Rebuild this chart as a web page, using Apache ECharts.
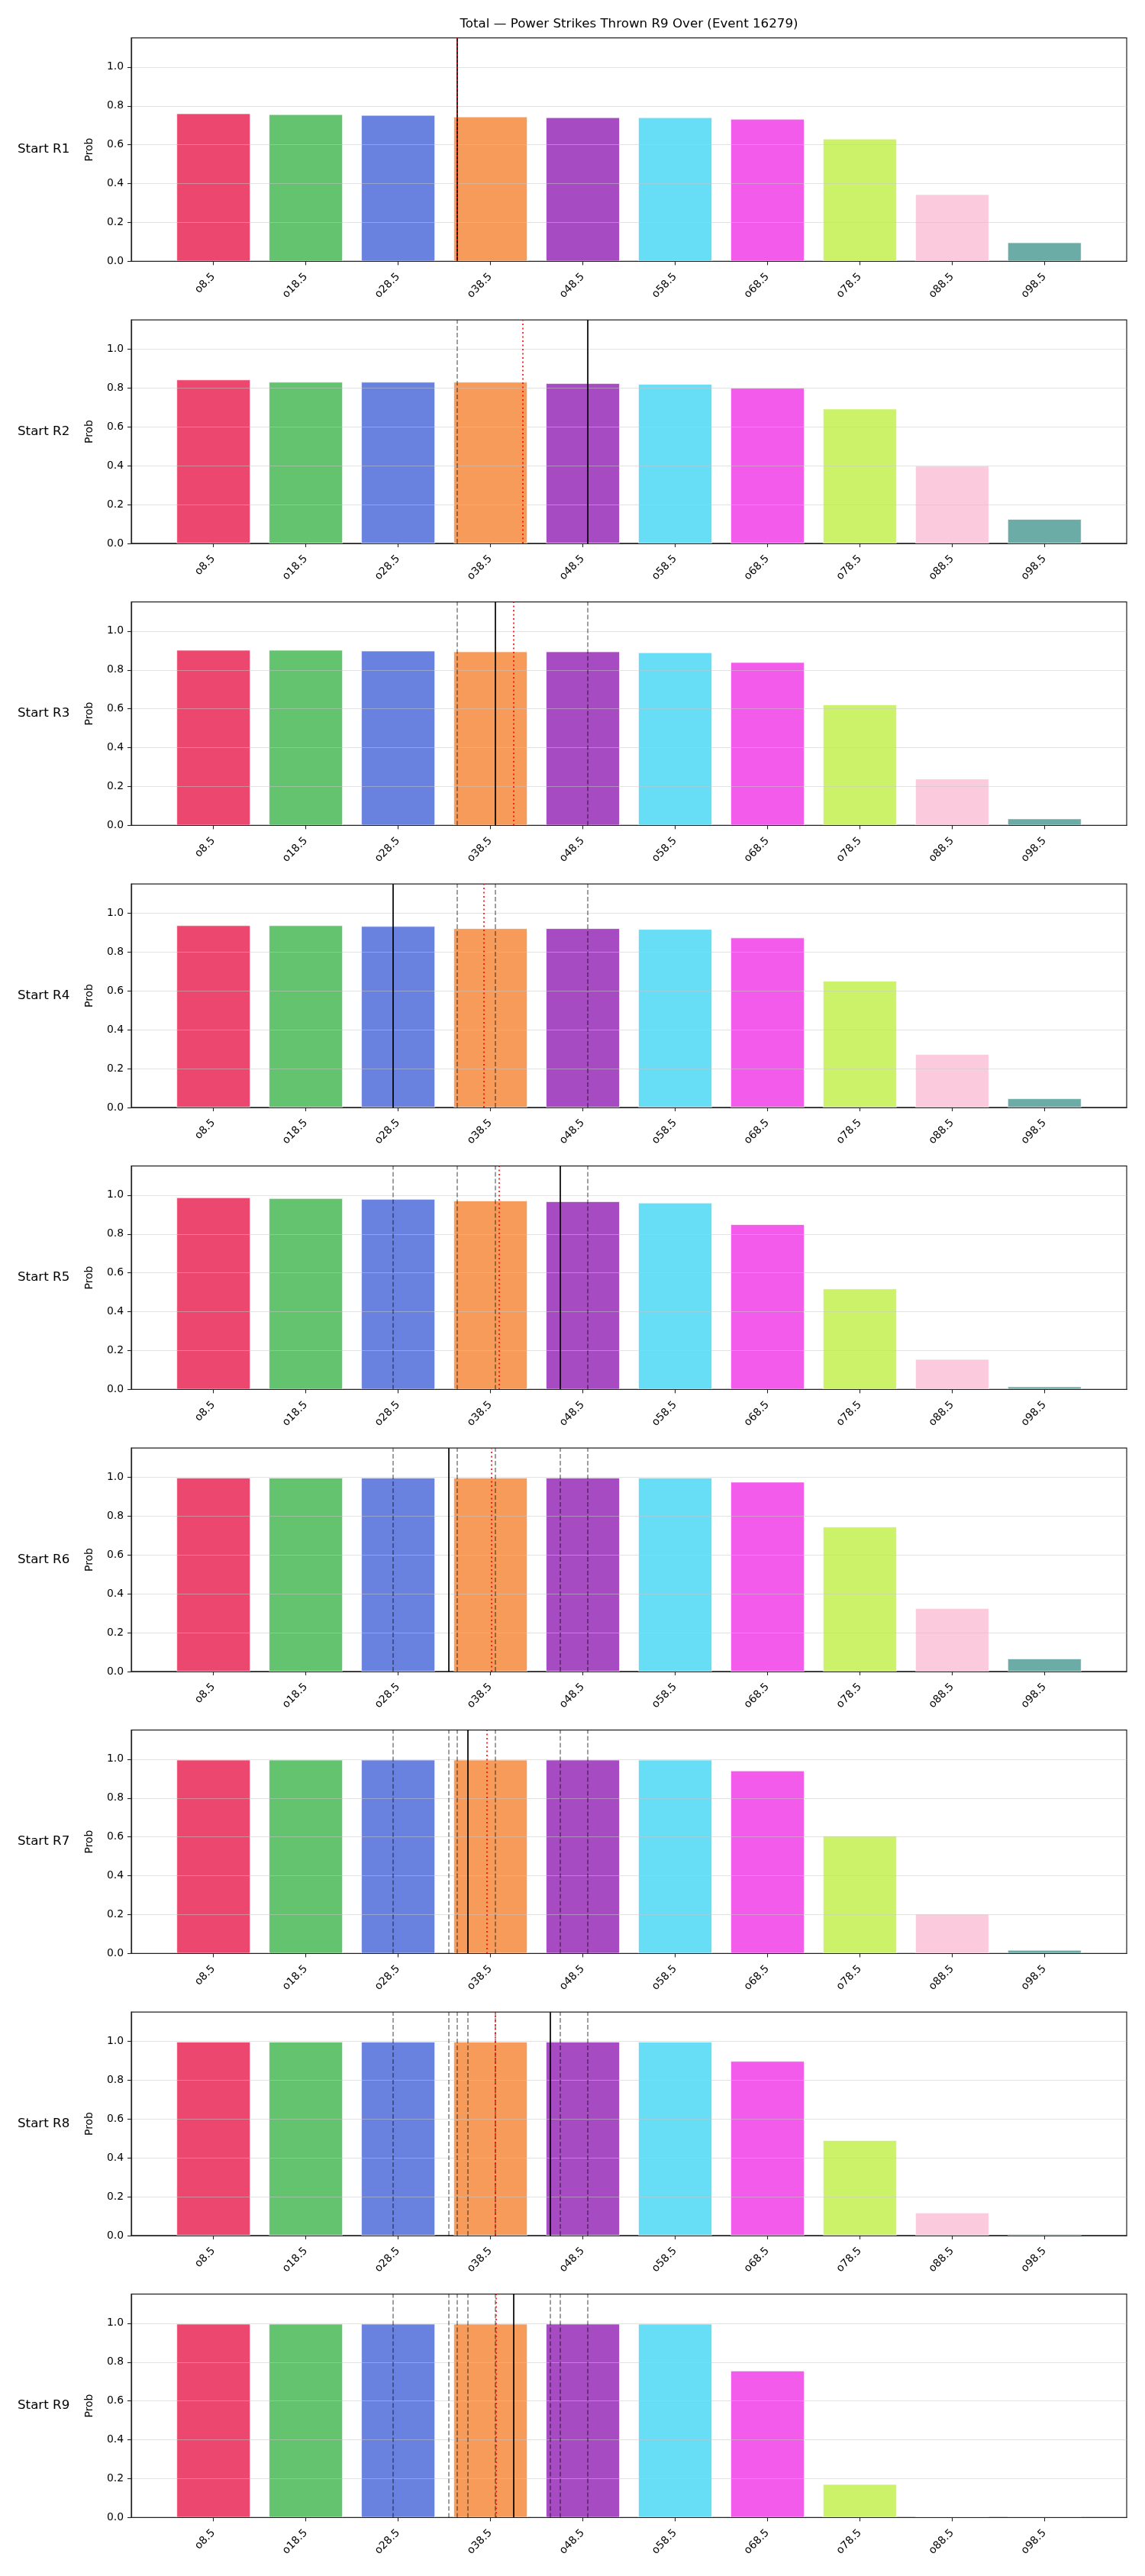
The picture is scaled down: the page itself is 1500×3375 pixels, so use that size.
<!DOCTYPE html>
<html>
<head>
<meta charset="utf-8">
<script src="https://cdn.jsdelivr.net/npm/echarts@6/dist/echarts.min.js"></script>
<style>
  html, body { margin: 0; padding: 0; background: #fff; }
  #chart { width: 1500px; height: 3375px; }
</style>
</head>
<body>
<div id="chart"></div>
<script>
// ===== data =====
const TITLE = 'Total — Power Strikes Thrown R9 Over (Event 16279)'
const categories = ['o8.5', 'o18.5', 'o28.5', 'o38.5', 'o48.5', 'o58.5', 'o68.5', 'o78.5', 'o88.5', 'o98.5']
const roundLabels = ['Start R1', 'Start R2', 'Start R3', 'Start R4', 'Start R5', 'Start R6', 'Start R7', 'Start R8', 'Start R9']

const probR1 = [0.761, 0.757, 0.753, 0.745, 0.741, 0.741, 0.733, 0.631, 0.345, 0.097]
const probR2 = [0.843, 0.831, 0.831, 0.831, 0.824, 0.820, 0.800, 0.693, 0.399, 0.125]
const probR3 = [0.903, 0.903, 0.899, 0.895, 0.895, 0.890, 0.840, 0.622, 0.240, 0.035]
const probR4 = [0.937, 0.937, 0.933, 0.922, 0.922, 0.918, 0.874, 0.651, 0.274, 0.046]
const probR5 = [0.988, 0.984, 0.980, 0.972, 0.968, 0.961, 0.850, 0.519, 0.156, 0.015]
const probR6 = [0.997, 0.997, 0.997, 0.997, 0.997, 0.997, 0.976, 0.745, 0.325, 0.066]
const probR7 = [0.997, 0.997, 0.997, 0.997, 0.997, 0.997, 0.941, 0.606, 0.204, 0.018]
const probR8 = [0.997, 0.997, 0.997, 0.997, 0.997, 0.997, 0.898, 0.490, 0.117, 0.008]
const probR9 = [0.997, 0.997, 0.997, 0.997, 0.997, 0.997, 0.756, 0.172, 0.004, 0.006]
const probs = [probR1, probR2, probR3, probR4, probR5, probR6, probR7, probR8, probR9]

// vertical markers, in category-index units (o8.5 = 0)
const currentLine = [2.644, 4.049, 3.054, 1.942, 3.749, 2.549, 2.747, 3.646, 3.252]  // solid black
const avgLine = [2.644, 3.346, 3.252, 2.928, 3.094, 3.006, 2.960, 3.054, 3.062]      // red dotted
// earlier rounds (gray dashed) = currentLine of the rounds before

const barColors = ['#e6194b', '#3cb44b', '#4363d8', '#f58231', '#911eb4',
                   '#42d4f4', '#f032e6', '#bfef45', '#fabed4', '#469990']

// ===== layout =====
const FONT = 'DejaVu Sans'
const PLOT_LEFT = 172
const PLOT_W = 1304
const PANEL_TOP = 49.7
const PANEL_STEP = 369.5
const PANEL_H = 292.7
const X_MIN = -0.89
const X_MAX = 9.89
const BAR_W = 0.8 * PLOT_W / (X_MAX - X_MIN)
const catIdx = categories.map((_, i) => i)
const yTicks = [0, 0.2, 0.4, 0.6, 0.8, 1.0]

const grids = [], xAxes = [], yAxes = [], series = []
const graphics = [{
  type: 'text', x: PLOT_LEFT + PLOT_W / 2, y: 32, z: 10,
  style: { text: TITLE, align: 'center', verticalAlign: 'middle', fontSize: 16.7, fontFamily: FONT, fill: '#000' },
}]

for (let k = 0; k < probs.length; k++) {
  const top = PANEL_TOP + PANEL_STEP * k
  grids.push({
    left: PLOT_LEFT, width: PLOT_W, top, height: PANEL_H,
    show: true, borderColor: '#222', borderWidth: 1.2, backgroundColor: 'transparent',
  })
  xAxes.push({
    gridIndex: k, type: 'value', min: X_MIN, max: X_MAX, z: 5,
    axisLine: { show: true, onZero: false, lineStyle: { color: '#222', width: 1.2 } },
    axisTick: { show: true, customValues: catIdx, length: 5, lineStyle: { color: '#222', width: 1.1 } },
    axisLabel: {
      show: true, customValues: catIdx, formatter: (v) => categories[Math.round(v)],
      rotate: 45, margin: 18, fontSize: 13.9, fontFamily: FONT, color: '#000',
    },
    splitLine: { show: false },
  })
  yAxes.push({
    gridIndex: k, type: 'value', min: 0, max: 1.15, interval: 0.2, z: 5,
    name: 'Prob', nameLocation: 'middle', nameGap: 48,
    nameTextStyle: { fontSize: 13.9, fontFamily: FONT, color: '#000' },
    axisLine: { show: true, onZero: false, lineStyle: { color: '#222', width: 1.2 } },
    axisTick: { show: true, customValues: yTicks, length: 5, lineStyle: { color: '#222', width: 1.1 } },
    axisLabel: {
      customValues: yTicks, formatter: (v) => v.toFixed(1),
      margin: 10, fontSize: 13.9, fontFamily: FONT, color: '#000',
    },
    splitLine: { show: true, lineStyle: { color: 'rgba(200,200,200,0.5)', width: 1 } },
  })

  const marks = []
  for (let j = 0; j < k; j++) {
    marks.push({ xAxis: currentLine[j], lineStyle: { color: 'rgba(0,0,0,0.5)', type: [6, 3], width: 1.5 } })
  }
  marks.push({ xAxis: currentLine[k], lineStyle: { color: 'rgba(0,0,0,0.85)', type: 'solid', width: 2 } })
  marks.push({ xAxis: avgLine[k], lineStyle: { color: 'rgba(255,0,0,0.8)', type: [2, 3.5], width: 2 } })

  series.push({
    type: 'bar', xAxisIndex: k, yAxisIndex: k, barWidth: BAR_W, animation: false,
    data: probs[k].map((v, i) => ({ value: [i, v], itemStyle: { color: barColors[i] } })),
    itemStyle: { opacity: 0.8, borderColor: '#fff', borderWidth: 0.8 },
    markLine: { silent: true, symbol: 'none', animation: false, label: { show: false }, data: marks },
  })

  graphics.push({
    type: 'text', x: 23, y: top + PANEL_H / 2, z: 10,
    style: { text: roundLabels[k], align: 'left', verticalAlign: 'middle', fontSize: 16.7, fontFamily: FONT, fill: '#000' },
  })
}

const chart = echarts.init(document.getElementById('chart'), null, { renderer: 'canvas' })
chart.setOption({
  backgroundColor: '#fff',
  animation: false,
  grid: grids,
  xAxis: xAxes,
  yAxis: yAxes,
  series,
  graphic: graphics,
})
</script>
</body>
</html>
